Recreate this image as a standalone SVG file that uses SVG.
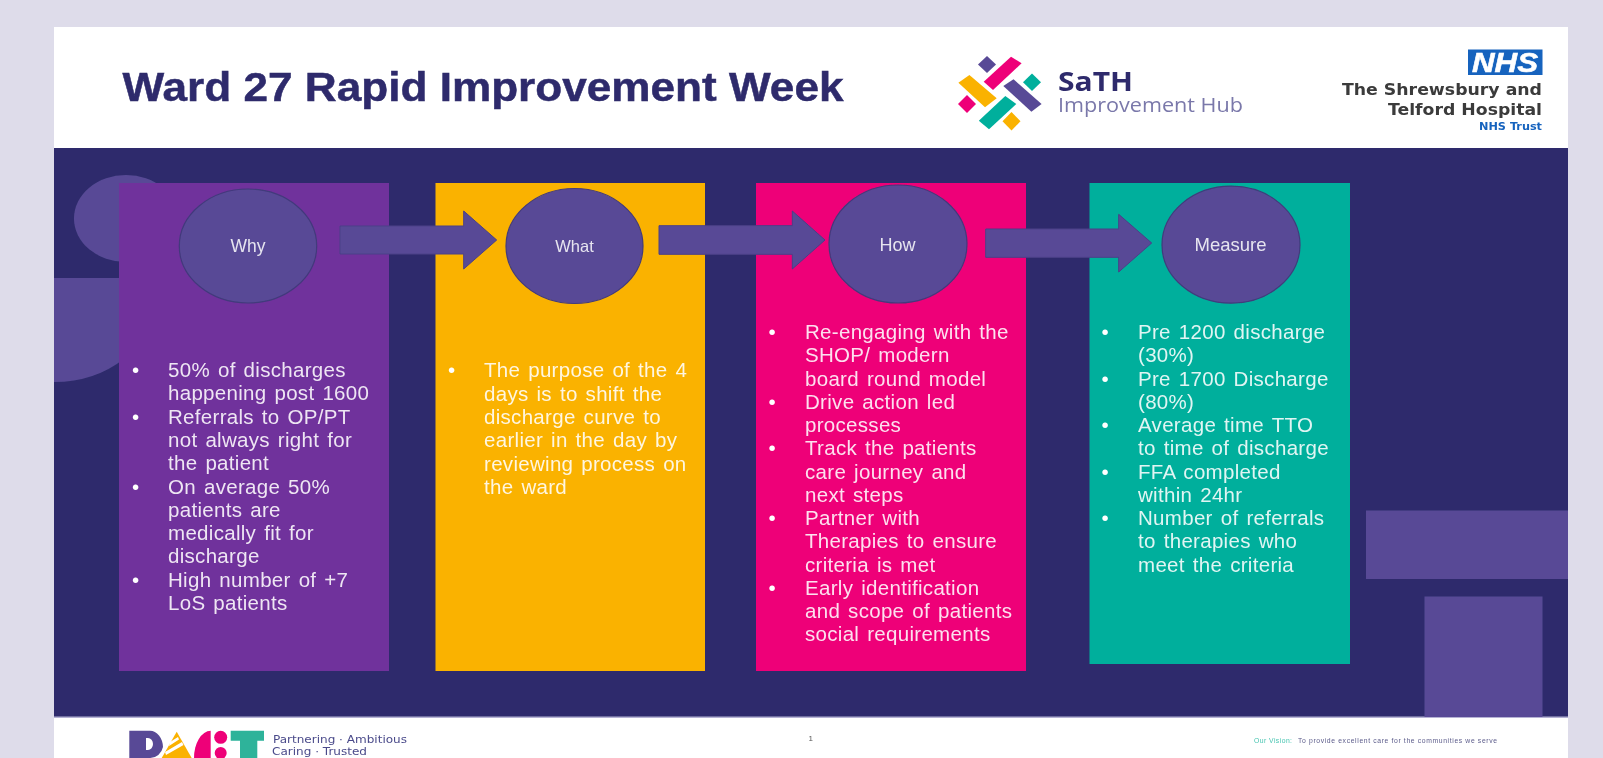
<svg xmlns="http://www.w3.org/2000/svg" width="1603" height="758" viewBox="0 0 1603 758">
<style>
text{font-family:"Liberation Sans",Arial,sans-serif}
.body{font-size:20.5px;fill:#fff;fill-opacity:.88;letter-spacing:.3px;word-spacing:2px}
.bul{font-size:20.5px;fill:#fff}
.lab{font-size:17.5px;fill:#fff;fill-opacity:.85;text-anchor:middle}
.oval{fill:#584A96;stroke:#423A7C;stroke-width:1.2}
.deco{fill:#584A96}
.arr{fill:#584A96;stroke:#4A3F88;stroke-width:1}
.logo{font-family:"Open Sans","Noto Sans",sans-serif}
.foot{font-family:"DejaVu Sans",sans-serif;font-size:10.2px;fill:#4A4A8A}
.tr{font-family:"DejaVu Sans",sans-serif;font-weight:700;fill:#3A3A3A}
</style>
<defs><filter id="soft" filterUnits="userSpaceOnUse" x="0" y="0" width="1603" height="758"><feGaussianBlur stdDeviation="0.6"/></filter></defs>
<rect width="1603" height="758" fill="#DEDCEA"/>
<g filter="url(#soft)">
<rect x="54" y="27" width="1514" height="731" fill="#fff"/>
<rect x="54" y="148" width="1514" height="569" fill="#2E2C6C"/>
<rect x="54" y="716.5" width="1514" height="1.5" fill="#B5B2D4"/>
<g id="background">
<ellipse class="deco" cx="126" cy="218.5" rx="52" ry="43.5"/>
<path class="deco" d="M54 278H125V358Q95 382 54 382Z"/>
<rect class="deco" x="1366" y="510.5" width="202" height="68.5"/>
<rect class="deco" x="1424.5" y="596.5" width="118" height="120.5"/>
</g>
<g id="header">
<text x="122.5" y="101" font-size="41" font-weight="700" fill="#2E2C6C" stroke="#2E2C6C" stroke-width=".5" textLength="721" lengthAdjust="spacingAndGlyphs">Ward 27 Rapid Improvement Week</text>
</g>
<g id="sath-logo">
<path fill="#584A96" d="M987 56l9 8.500-9 8.500-9-8.500z"/>
<path fill="#EE0078" d="M1011 56.700l10.600 6.600L993 90l-9.300-8.300z"/>
<path fill="#00AF9C" d="M1032 73.500l9 8.800-9 8.800-9-8.800z"/>
<path fill="#FAB200" d="M958.400 82.700L969.400 75l27.300 23.300L985 107.300z"/>
<path fill="#584A96" d="M1003.300 86l10.200-6.700 28.100 24.700-10.200 7.700z"/>
<path fill="#EE0078" d="M967 95l9 9-9 9-9-9z"/>
<path fill="#00AF9C" d="M1005.300 96l11 8L989 129.300l-10.200-8.600z"/>
<path fill="#FAB200" d="M1011.500 112l9 9.300-9 9.300-9-9.300z"/>
<text class="logo" x="1058" y="91" font-size="27" font-weight="700" fill="#2E2C6C" textLength="75" lengthAdjust="spacingAndGlyphs">SaTH</text>
<text class="logo" x="1058" y="112" font-size="19.500" fill="#7A78AA" textLength="185" lengthAdjust="spacingAndGlyphs">Improvement Hub</text>
</g>
<g id="nhs-logo">
<rect x="1468" y="49.500" width="74.500" height="25.500" fill="#1763BE"/>
<text x="1505" y="72" font-size="28" font-weight="700" font-style="italic" fill="#fff" stroke="#fff" stroke-width=".6" text-anchor="middle" textLength="66" lengthAdjust="spacingAndGlyphs">NHS</text>
<text class="tr" x="1342" y="95" font-size="16" textLength="200" lengthAdjust="spacingAndGlyphs">The Shrewsbury and</text>
<text class="tr" x="1388" y="115" font-size="16" textLength="154" lengthAdjust="spacingAndGlyphs">Telford Hospital</text>
<text class="tr" x="1479" y="129.500" font-size="10" textLength="63" lengthAdjust="spacingAndGlyphs" style="fill:#1763BE">NHS Trust</text>
</g>
<g id="why">
<rect x="119" y="183" width="270" height="488" fill="#70309C"/>
<text class="bul" x="132"><tspan x="132" y="377">•</tspan><tspan x="132" y="423.600">•</tspan><tspan x="132" y="493.500">•</tspan><tspan x="132" y="586.700">•</tspan></text>
<text class="body" x="168"><tspan x="168" y="377">50% of discharges</tspan><tspan x="168" y="400.300">happening post 1600</tspan><tspan x="168" y="423.600">Referrals to OP/PT</tspan><tspan x="168" y="446.900">not always right for</tspan><tspan x="168" y="470.200">the patient</tspan><tspan x="168" y="493.500">On average 50%</tspan><tspan x="168" y="516.800">patients are</tspan><tspan x="168" y="540.100">medically fit for</tspan><tspan x="168" y="563.400">discharge</tspan><tspan x="168" y="586.700">High number of +7</tspan><tspan x="168" y="610">LoS patients</tspan></text>
<ellipse class="oval" cx="248" cy="246" rx="68.700" ry="57"/>
<text class="lab" x="248" y="251.500">Why</text>
</g>
<g id="what">
<rect x="435.500" y="183" width="269.500" height="488" fill="#FAB200"/>
<text class="bul" x="448" y="377.300">•</text>
<text class="body"><tspan x="484" y="377.300">The purpose of the 4</tspan><tspan x="484" y="400.600">days is to shift the</tspan><tspan x="484" y="423.900">discharge curve to</tspan><tspan x="484" y="447.200">earlier in the day by</tspan><tspan x="484" y="470.500">reviewing process on</tspan><tspan x="484" y="493.800">the ward</tspan></text>
<ellipse class="oval" cx="574.500" cy="246" rx="68.500" ry="57.500"/>
<text class="lab" x="574.500" y="251.700" style="font-size:16.500px">What</text>
</g>
<g id="how">
<rect x="756" y="183" width="270" height="488" fill="#EE0078"/>
<text class="bul"><tspan x="768.500" y="339">•</tspan><tspan x="768.500" y="408.800">•</tspan><tspan x="768.500" y="455.300">•</tspan><tspan x="768.500" y="525">•</tspan><tspan x="768.500" y="594.800">•</tspan></text>
<text class="body"><tspan x="805" y="339">Re-engaging with the</tspan><tspan x="805" y="362.300">SHOP/ modern</tspan><tspan x="805" y="385.500">board round model</tspan><tspan x="805" y="408.800">Drive action led</tspan><tspan x="805" y="432">processes</tspan><tspan x="805" y="455.300">Track the patients</tspan><tspan x="805" y="478.500">care journey and</tspan><tspan x="805" y="501.800">next steps</tspan><tspan x="805" y="525">Partner with</tspan><tspan x="805" y="548.300">Therapies to ensure</tspan><tspan x="805" y="571.500">criteria is met</tspan><tspan x="805" y="594.800">Early identification</tspan><tspan x="805" y="618">and scope of patients</tspan><tspan x="805" y="641.300">social requirements</tspan></text>
<ellipse class="oval" cx="898" cy="244" rx="69" ry="59"/>
<text class="lab" x="897.500" y="250.700" style="font-size:18px">How</text>
</g>
<g id="measure">
<rect x="1089.500" y="183" width="260.500" height="481" fill="#00AF9C"/>
<text class="bul"><tspan x="1101.500" y="339">•</tspan><tspan x="1101.500" y="385.500">•</tspan><tspan x="1101.500" y="432">•</tspan><tspan x="1101.500" y="478.500">•</tspan><tspan x="1101.500" y="525">•</tspan></text>
<text class="body"><tspan x="1138" y="339">Pre 1200 discharge</tspan><tspan x="1138" y="362.300">(30%)</tspan><tspan x="1138" y="385.500">Pre 1700 Discharge</tspan><tspan x="1138" y="408.800">(80%)</tspan><tspan x="1138" y="432">Average time TTO</tspan><tspan x="1138" y="455.300">to time of discharge</tspan><tspan x="1138" y="478.500">FFA completed</tspan><tspan x="1138" y="501.800">within 24hr</tspan><tspan x="1138" y="525">Number of referrals</tspan><tspan x="1138" y="548.300">to therapies who</tspan><tspan x="1138" y="571.500">meet the criteria</tspan></text>
<ellipse class="oval" cx="1231" cy="244.700" rx="69" ry="58.500"/>
<text class="lab" x="1230.500" y="250.700" style="font-size:18.500px">Measure</text>
</g>
<g id="connectors">
<path class="arr" d="M340 226H463.700V211L496.700 240 463.700 269V254H340Z"/>
<path class="arr" d="M659 225.700H792.300V211L825 240 792.300 269V254.300H659Z"/>
<path class="arr" d="M985.700 229H1118.700V214.300L1151.700 243 1118.700 272V257.300H985.700Z"/>
</g>
<g id="footer">
<path fill="#584A96" fill-rule="evenodd" d="M129.300 730.700H150A13 17 0 0 1 163 747 13 14 0 0 1 150 758H129.300Z M146 738V750H148A5 6 0 0 0 148 738Z"/>
<path fill="#FAB200" d="M176.700 731.700L191.700 758H161.700Z"/>
<path fill="#fff" d="M165 752L182 742 183.500 745 166 755Z M170 742L178 737 179 739.500 169 746Z"/>
<path fill="#EE0078" d="M210.700 730.700A17 27 0 0 0 194 758H210.700Z"/>
<circle cx="220.700" cy="737.300" r="6.500" fill="#EE0078"/>
<circle cx="220.700" cy="753" r="6" fill="#EE0078"/>
<path fill="#2DB39A" d="M230.700 730.700H264V740.700H257.300V758H240V740.700H230.700Z"/>
<text class="foot" x="273" y="742.500" textLength="134" lengthAdjust="spacingAndGlyphs">Partnering · Ambitious</text>
<text class="foot" x="272" y="754.800" textLength="95" lengthAdjust="spacingAndGlyphs">Caring · Trusted</text>
<text x="810.700" y="741" font-size="8" fill="#555" text-anchor="middle">1</text>
<text x="1254" y="743" font-size="6.800" fill="#45C4B0" textLength="38" lengthAdjust="spacing">Our Vision:</text>
<text x="1298" y="743" font-size="6.800" fill="#5B5B8A" textLength="199" lengthAdjust="spacing">To provide excellent care for the communities we serve</text>
</g>
</g>
</svg>
